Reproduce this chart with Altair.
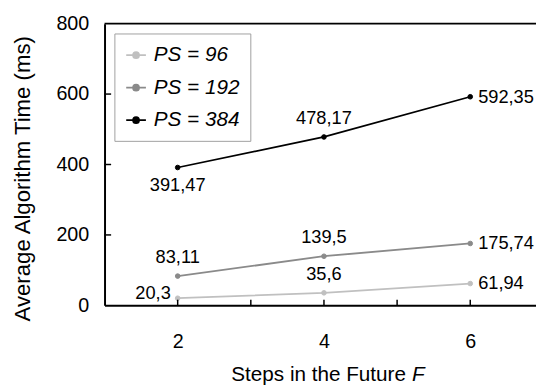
import altair as alt
import pandas as pd

steps = [2, 4, 6]
series_names = ["PS = 96", "PS = 192", "PS = 384"]
ps96 = [20.3, 35.6, 61.94]
ps192 = [83.11, 139.5, 175.74]
ps384 = [391.47, 478.17, 592.35]
label_pos_96 = ["left", "above", "right"]
label_pos_192 = ["above", "above", "right"]
label_pos_384 = ["below", "above", "right"]
colors = ["#c0c0c0", "#8a8a8a", "#000000"]
x_ticks = [2, 3, 4, 5, 6]
y_ticks = [200, 400, 600]

rows = []
for name, vals, poss in zip(series_names, [ps96, ps192, ps384],
                            [label_pos_96, label_pos_192, label_pos_384]):
    for f, v, p in zip(steps, vals, poss):
        rows.append({"F": f, "value": v, "series": name,
                     "label": ("%g" % v).replace(".", ","), "pos": p})
df = pd.DataFrame(rows)

FONT = "Liberation Sans"
W, H = 438, 286

xscale = alt.Scale(domain=[1, 1 + W / 74.25], nice=False, zero=False)
yscale = alt.Scale(domain=[0, 800], nice=False)
sc = alt.Scale(domain=series_names, range=colors)

base = alt.Chart(df)

x_enc = alt.X("F:Q", scale=xscale,
              axis=alt.Axis(values=steps, format="d", ticks=False, grid=False, title=None,
                            labelFont=FONT, labelFontSize=20, labelColor="black",
                            labelPadding=27, domainColor="black", domainWidth=2))
y_enc = alt.Y("value:Q", scale=yscale,
              axis=alt.Axis(values=[0, 200, 400, 600, 800], format="d", ticks=False, grid=False,
                            title="Average Algorithm Time (ms)",
                            titleFont=FONT, titleFontSize=22.5, titleFontWeight="normal",
                            titleColor="black", titleX=-83, titleY=157,
                            titleAngle=-90, titleAlign="center", titleBaseline="middle",
                            labelFont=FONT, labelFontSize=20, labelColor="black",
                            labelPadding=16, domainColor="black", domainWidth=2))

legend = alt.Legend(
    title=None, orient="none", legendX=10, legendY=10,
    strokeColor="#a0a0a0", fillColor="white", padding=11,
    symbolType="M-1,0H1M-0.3,0A0.3,0.3,0,1,1,0.3,0A0.3,0.3,0,1,1,-0.3,0Z",
    symbolSize=400, symbolStrokeWidth=1.8, symbolOpacity=1,
    labelFont=FONT, labelFontSize=21, labelFontStyle="italic", labelColor="black",
    labelOffset=7, rowPadding=12,
)

lines = base.mark_line(strokeWidth=1.8).encode(
    x=x_enc, y=y_enc,
    stroke=alt.Stroke("series:N", scale=sc, sort=series_names, legend=legend),
)
points = base.mark_point(filled=True, size=22, opacity=1, strokeWidth=1).encode(
    x="F:Q", y="value:Q",
    stroke=alt.Stroke("series:N", scale=sc, sort=series_names, legend=legend),
    fill=alt.Fill("series:N", scale=sc, sort=series_names, legend=legend),
)

def lab(pos, **kw):
    return base.transform_filter(alt.datum.pos == pos).mark_text(
        font=FONT, fontSize=18.5, color="black", **kw
    ).encode(x="F:Q", y="value:Q", text="label:N")

labels = (lab("left", align="right", baseline="middle", dx=-7, dy=-5)
          + lab("above", align="center", baseline="middle", dy=-19)
          + lab("below", align="center", baseline="middle", dy=18)
          + lab("right", align="left", baseline="middle", dx=8))

top_line = alt.Chart(pd.DataFrame({"y": [800]})).mark_rule(
    color="black", strokeWidth=2).encode(y=alt.Y("y:Q", scale=yscale))
xt = alt.Chart(pd.DataFrame({"t": x_ticks})).mark_rule(color="black", strokeWidth=1.5).encode(
    x=alt.X("t:Q", scale=xscale), y=alt.datum(0), y2=alt.datum(16))
yt = alt.Chart(pd.DataFrame({"t": y_ticks})).mark_rule(color="black", strokeWidth=1.5).encode(
    y=alt.Y("t:Q", scale=yscale), x=alt.datum(1), x2=alt.datum(1.09))

xtitle_a = alt.Chart(pd.DataFrame({"t": ["Steps in the Future"]})).mark_text(
    font=FONT, fontSize=21, align="right", baseline="alphabetic", color="black"
).encode(text="t:N", x=alt.value(306), y=alt.value(363))
xtitle_b = alt.Chart(pd.DataFrame({"t": ["F"]})).mark_text(
    font=FONT, fontSize=21, fontStyle="italic", align="left", baseline="alphabetic", color="black"
).encode(text="t:N", x=alt.value(312), y=alt.value(363))

chart = alt.layer(
    lines, points, labels, top_line, xt, yt, xtitle_a, xtitle_b
).properties(
    width=W, height=H,
    autosize=alt.AutoSizeParams(type="none"),
    padding={"left": 98, "top": 13, "right": 0, "bottom": 80},
).configure_view(stroke=None)

chart.save("out.html", embed_options={"renderer": "svg", "actions": False})
